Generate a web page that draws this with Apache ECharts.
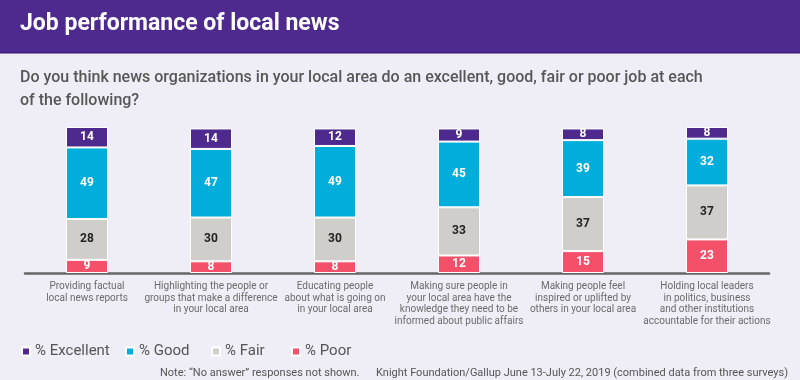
<!DOCTYPE html>
<html>
<head>
<meta charset="utf-8">
<script src="https://cdn.jsdelivr.net/npm/echarts@6/dist/echarts.min.js"></script>
<style>
html,body{margin:0;padding:0;background:#efedf6;}
#main{width:800px;height:380px;}
</style>
</head>
<body>
<div id="main"></div>
<script>
const categories = [
  "Providing factual\nlocal news reports",
  "Highlighting the people or\ngroups that make a difference\nin your local area",
  "Educating people\nabout what is going on\nin your local area",
  "Making sure people in\nyour local area have the\nknowledge they need to be\ninformed about public affairs",
  "Making people feel\ninspired or uplifted by\nothers in your local area",
  "Holding local leaders\nin politics, business\nand other institutions\naccountable for their actions"
];
const poor = [9, 8, 8, 12, 15, 23];
const fair = [28, 30, 30, 33, 37, 37];
const good = [49, 47, 49, 45, 39, 32];
const excellent = [14, 14, 12, 9, 8, 8];
const seriesNames = ["% Poor", "% Fair", "% Good", "% Excellent"];
const titleText = "Job performance of local news";
const subtitleText = "Do you think news organizations in your local area do an excellent, good, fair or poor job at each\nof the following?";
const noteText = "Note: \u201CNo answer\u201D responses not shown.";
const sourceText = "Knight Foundation/Gallup June 13-July 22, 2019 (combined data from three surveys)";

const colors = {"% Poor": "#f5506a", "% Fair": "#d0cecb", "% Good": "#00addb", "% Excellent": "#4e2a8e"};
const labelColors = {"% Poor": "#ffffff", "% Fair": "#222222", "% Good": "#ffffff", "% Excellent": "#ffffff"};
const values = {"% Poor": poor, "% Fair": fair, "% Good": good, "% Excellent": excellent};
const FONT = "Roboto, 'DejaVu Sans', sans-serif";

const chart = echarts.init(document.getElementById('main'), null, {renderer: 'canvas'});

const legendPos = {"% Excellent": 16, "% Good": 120, "% Fair": 206, "% Poor": 286};
const legendOrder = ["% Excellent", "% Good", "% Fair", "% Poor"];

chart.setOption({
  backgroundColor: '#efedf6',
  animation: false,
  grid: {left: 25, right: 31, top: 127, bottom: 107},
  xAxis: {
    type: 'category',
    data: categories,
    axisLine: {lineStyle: {color: '#666666', width: 2.5}},
    axisTick: {show: false},
    axisLabel: {interval: 0, color: '#6b6b6b', fontSize: 10, lineHeight: 11.5, margin: 8, fontFamily: FONT}
  },
  yAxis: {type: 'value', min: 0, max: 100, show: false, splitLine: {show: false}},
  legend: legendOrder.map(n => ({
    data: [n],
    left: legendPos[n],
    top: 339,
    icon: 'rect',
    itemWidth: 8,
    itemHeight: 8,
    itemGap: 0,
    selectedMode: false,
    textStyle: {fontSize: 15, color: '#555555', fontFamily: FONT}
  })),
  graphic: [
    {type: 'rect', left: 0, top: 0, shape: {width: 800, height: 52}, style: {fill: '#4e2a8e'}, silent: true},
    {type: 'rect', left: 0, top: 52, shape: {width: 800, height: 1.5}, style: {fill: '#3c1c78'}, silent: true},
    {type: 'text', left: 20, top: 13, style: {text: titleText, fill: '#ffffff', font: "bold 23px " + FONT}},
    {type: 'text', left: 20, top: 66, style: {text: subtitleText, fill: '#575757', font: "500 16px " + FONT, lineHeight: 23}},
    {type: 'text', left: 160, top: 368, style: {text: noteText, fill: '#555555', font: "11px " + FONT}},
    {type: 'text', right: 12, top: 368, style: {text: sourceText, fill: '#555555', font: "11px " + FONT}}
  ],
  series: seriesNames.map(n => ({
    name: n,
    type: 'bar',
    stack: 'total',
    barWidth: 42,
    data: values[n],
    itemStyle: {color: colors[n], borderColor: '#ffffff', borderWidth: 1},
    label: {show: true, position: 'inside', color: labelColors[n], fontSize: 12, fontWeight: 'bold', fontFamily: FONT},
    emphasis: {disabled: true}
  }))
});
</script>
</body>
</html>
